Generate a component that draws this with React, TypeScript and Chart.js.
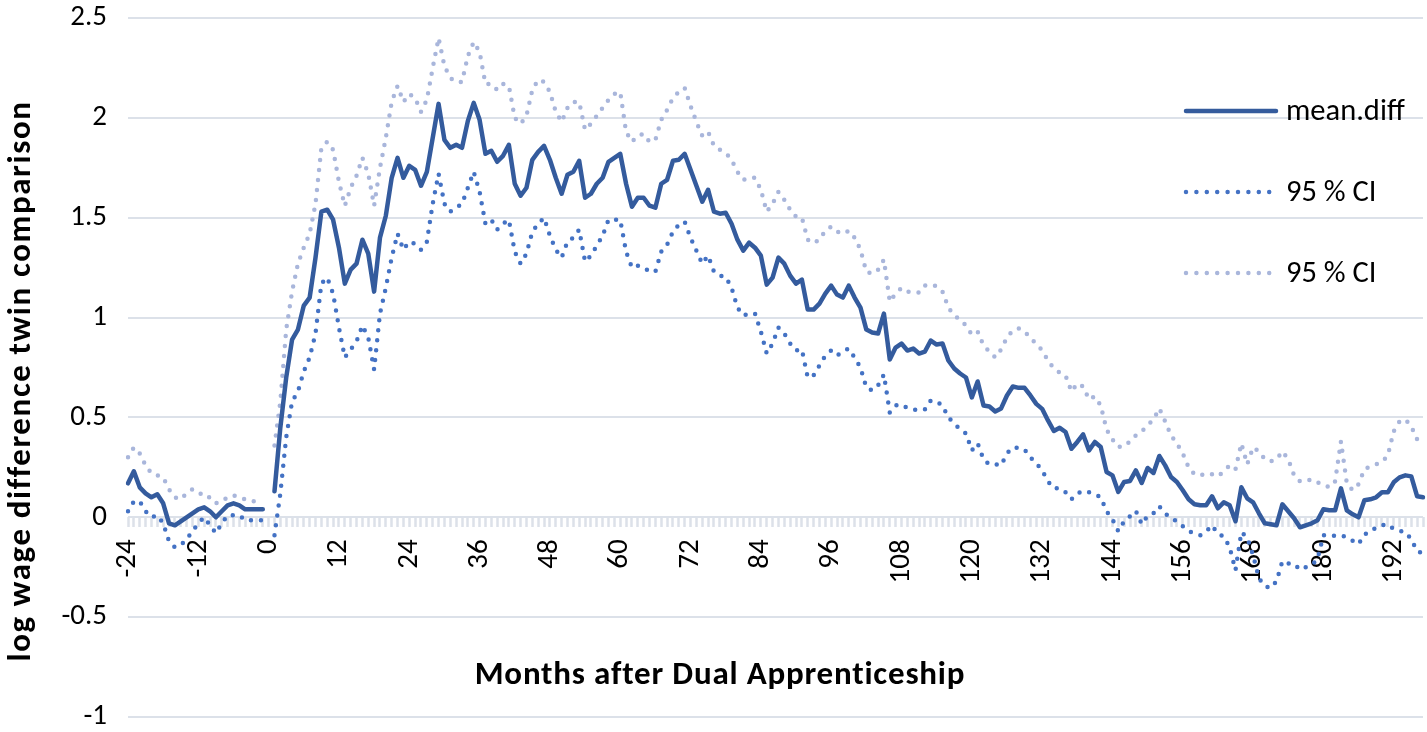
import { useEffect, useRef } from 'react';
import { Chart, registerables } from 'chart.js';

Chart.register(...registerables);

// ---------- data ----------
const MONTHS: number[] = Array.from({ length: 222 }, (_, i) => i - 24); // -24 .. 197

const MEAN_DIFF: (number | null)[] = [
  // -24 .. -1
  0.17, 0.23, 0.15, 0.12, 0.10, 0.115, 0.07, -0.03, -0.04, -0.02, 0.00, 0.02, 0.04, 0.05, 0.03, 0.00, 0.03, 0.06, 0.07, 0.06, 0.04, 0.04, 0.04, 0.04,
  // 0
  null,
  // 1 .. 30
  0.13, 0.45, 0.70, 0.89, 0.94, 1.06, 1.10, 1.30, 1.53, 1.54, 1.49, 1.35, 1.17, 1.24, 1.27, 1.39, 1.32, 1.13, 1.40, 1.51, 1.70, 1.80, 1.70, 1.76, 1.74, 1.66, 1.73, 1.90, 2.07, 1.89,
  // 31 .. 60
  1.85, 1.865, 1.85, 1.985, 2.075, 1.99, 1.82, 1.835, 1.78, 1.81, 1.865, 1.67, 1.61, 1.65, 1.79, 1.83, 1.86, 1.79, 1.70, 1.62, 1.715, 1.73, 1.785, 1.60, 1.62, 1.67, 1.70, 1.78, 1.80, 1.82,
  // 61 .. 90
  1.67, 1.555, 1.60, 1.60, 1.56, 1.55, 1.67, 1.69, 1.785, 1.79, 1.82, 1.74, 1.66, 1.58, 1.64, 1.53, 1.52, 1.525, 1.47, 1.39, 1.335, 1.375, 1.35, 1.31, 1.165, 1.20, 1.30, 1.27, 1.21, 1.17,
  // 91 .. 120
  1.19, 1.04, 1.04, 1.07, 1.12, 1.16, 1.115, 1.10, 1.16, 1.10, 1.05, 0.94, 0.925, 0.92, 1.02, 0.79, 0.85, 0.87, 0.835, 0.845, 0.82, 0.83, 0.885, 0.865, 0.87, 0.785, 0.745, 0.72, 0.70, 0.60,
  // 121 .. 150
  0.68, 0.56, 0.555, 0.53, 0.545, 0.61, 0.655, 0.648, 0.648, 0.61, 0.568, 0.543, 0.485, 0.432, 0.448, 0.427, 0.343, 0.377, 0.415, 0.335, 0.377, 0.352, 0.227, 0.21, 0.127, 0.177, 0.182, 0.235, 0.172, 0.247,
  // 151 .. 180
  0.222, 0.307, 0.26, 0.202, 0.177, 0.135, 0.09, 0.065, 0.06, 0.06, 0.105, 0.045, 0.075, 0.06, -0.02, 0.15, 0.095, 0.075, 0.02, -0.03, -0.035, -0.04, 0.065, 0.03, -0.005, -0.05, -0.04, -0.03, -0.015, 0.04,
  // 181 .. 197
  0.035, 0.035, 0.145, 0.035, 0.015, 0.0, 0.085, 0.09, 0.10, 0.125, 0.125, 0.175, 0.20, 0.21, 0.205, 0.105, 0.10,
];

const CI_LOWER: (number | null)[] = [
  // -24 .. -1
  0.03, 0.08, 0.08, 0.03, 0.00, 0.01, -0.03, -0.12, -0.15, -0.14, -0.11, -0.07, -0.03, 0.00, -0.04, -0.08, -0.03, 0.01, 0.01, 0.01, -0.015, -0.015, -0.015, -0.015,
  // 0
  null,
  // 1 .. 30
  -0.09, 0.12, 0.40, 0.58, 0.63, 0.73, 0.80, 0.92, 1.17, 1.20, 1.12, 0.95, 0.80, 0.84, 0.88, 0.96, 0.90, 0.74, 1.02, 1.15, 1.30, 1.42, 1.34, 1.38, 1.37, 1.34, 1.38, 1.57, 1.72, 1.57,
  // 31 .. 60
  1.53, 1.55, 1.57, 1.65, 1.73, 1.63, 1.47, 1.49, 1.44, 1.47, 1.49, 1.33, 1.27, 1.32, 1.43, 1.47, 1.50, 1.41, 1.34, 1.30, 1.38, 1.40, 1.44, 1.28, 1.31, 1.36, 1.41, 1.49, 1.49, 1.49,
  // 61 .. 90
  1.33, 1.25, 1.26, 1.25, 1.23, 1.23, 1.33, 1.365, 1.43, 1.465, 1.48, 1.40, 1.335, 1.27, 1.31, 1.23, 1.21, 1.205, 1.15, 1.05, 1.01, 1.02, 1.02, 0.93, 0.82, 0.87, 0.95, 0.92, 0.87, 0.835,
  // 91 .. 120
  0.84, 0.70, 0.71, 0.76, 0.81, 0.835, 0.81, 0.83, 0.845, 0.80, 0.75, 0.65, 0.635, 0.66, 0.715, 0.525, 0.56, 0.565, 0.547, 0.54, 0.535, 0.54, 0.585, 0.58, 0.56, 0.50, 0.47, 0.44, 0.42, 0.335,
  // 121 .. 150
  0.37, 0.29, 0.265, 0.265, 0.26, 0.32, 0.35, 0.348, 0.34, 0.30, 0.27, 0.235, 0.18, 0.145, 0.145, 0.125, 0.09, 0.12, 0.132, 0.125, 0.115, 0.10, 0.03, -0.01, -0.07, -0.02, 0.005, 0.032, -0.035, 0.008,
  // 151 .. 180
  0.02, 0.055, 0.02, -0.005, -0.02, -0.045, -0.07, -0.08, -0.09, -0.07, -0.04, -0.085, -0.095, -0.15, -0.265, -0.075, -0.10, -0.19, -0.305, -0.345, -0.355, -0.32, -0.22, -0.232, -0.232, -0.262, -0.25, -0.24, -0.21, -0.09,
  // 181 .. 197
  -0.09, -0.093, -0.09, -0.10, -0.118, -0.135, -0.085, -0.075, -0.05, -0.04, -0.035, -0.06, -0.068, -0.073, -0.11, -0.17, -0.18,
];

const CI_UPPER: (number | null)[] = [
  // -24 .. -1
  0.30, 0.35, 0.32, 0.26, 0.22, 0.21, 0.20, 0.14, 0.10, 0.09, 0.12, 0.14, 0.13, 0.10, 0.10, 0.07, 0.08, 0.10, 0.11, 0.10, 0.09, 0.08, 0.08, 0.09,
  // 0
  null,
  // 1 .. 30
  0.36, 0.58, 0.94, 1.13, 1.27, 1.35, 1.42, 1.57, 1.85, 1.88, 1.84, 1.68, 1.56, 1.65, 1.71, 1.80, 1.72, 1.56, 1.75, 1.90, 2.08, 2.16, 2.08, 2.12, 2.10, 2.03, 2.09, 2.25, 2.40, 2.26,
  // 31 .. 60
  2.20, 2.18, 2.18, 2.31, 2.38, 2.33, 2.17, 2.17, 2.14, 2.17, 2.16, 2.00, 1.97, 2.01, 2.14, 2.19, 2.18, 2.13, 2.03, 1.98, 2.05, 2.08, 2.08, 1.94, 1.97, 2.01, 2.05, 2.09, 2.12, 2.13,
  // 61 .. 90
  1.93, 1.88, 1.91, 1.92, 1.88, 1.89, 1.99, 2.04, 2.10, 2.13, 2.15, 2.06, 1.98, 1.91, 1.93, 1.86, 1.84, 1.825, 1.79, 1.73, 1.69, 1.70, 1.70, 1.64, 1.53, 1.57, 1.63, 1.59, 1.54, 1.505,
  // 91 .. 120
  1.50, 1.39, 1.372, 1.39, 1.435, 1.455, 1.43, 1.42, 1.435, 1.40, 1.34, 1.23, 1.22, 1.24, 1.29, 1.08, 1.12, 1.148, 1.13, 1.127, 1.125, 1.16, 1.165, 1.157, 1.13, 1.05, 1.01, 0.99, 0.96, 0.915,
  // 121 .. 150
  0.93, 0.86, 0.83, 0.80, 0.84, 0.90, 0.935, 0.945, 0.932, 0.895, 0.87, 0.835, 0.785, 0.745, 0.725, 0.71, 0.63, 0.67, 0.655, 0.59, 0.605, 0.56, 0.44, 0.39, 0.352, 0.355, 0.38, 0.41, 0.43, 0.46,
  // 151 .. 180
  0.49, 0.545, 0.48, 0.41, 0.37, 0.32, 0.25, 0.215, 0.21, 0.22, 0.215, 0.205, 0.23, 0.26, 0.24, 0.37, 0.265, 0.35, 0.33, 0.29, 0.28, 0.29, 0.33, 0.29, 0.21, 0.18, 0.18, 0.19, 0.175, 0.165,
  // 181 .. 197
  0.15, 0.18, 0.38, 0.17, 0.135, 0.165, 0.24, 0.255, 0.265, 0.275, 0.31, 0.43, 0.48, 0.49, 0.455, 0.39, 0.375,
];

const SERIES_LABELS = ['mean.diff', '95 % CI', '95 % CI'];
const X_TITLE = 'Months after Dual Apprenticeship';
const Y_TITLE = 'log wage difference twin comparison';
const Y_MIN = -1;
const Y_MAX = 2.5;
const Y_STEP = 0.5;
const LABEL_EVERY = 12;
const LAST_LABELLED = 192;

// ---------- styles ----------
const FONT = "Carlito, Lato, 'Noto Sans', sans-serif";
const MEAN_COLOR = '#345B9D';
const LOWER_COLOR = '#4472C4';
const UPPER_COLOR = '#A9B6DB';
const GRID_COLOR = '#DCE1E9';
const W = 1427;
const H = 732;

const overlayPlugin = {
  id: 'overlay',
  afterDraw(chart: any) {
    const ctx: CanvasRenderingContext2D = chart.ctx;
    ctx.save();
    ctx.fillStyle = '#000';
    // axis titles
    ctx.font = `bold 33px ${FONT}`;
    ctx.textAlign = 'center';
    ctx.textBaseline = 'middle';
    (ctx as any).letterSpacing = '0.8px';
    ctx.fillText(X_TITLE, 720, 676);
    ctx.save();
    (ctx as any).letterSpacing = '1.6px';
    ctx.translate(22, 381);
    ctx.rotate(-Math.PI / 2);
    ctx.fillText(Y_TITLE, 0, 0);
    ctx.restore();
    (ctx as any).letterSpacing = '0px';

    // legend
    const items = [
      { label: SERIES_LABELS[0], color: MEAN_COLOR, dash: [] as number[], y: 111, base: 120 },
      { label: SERIES_LABELS[1], color: LOWER_COLOR, dash: [0, 10.4], y: 192, base: 201 },
      { label: SERIES_LABELS[2], color: UPPER_COLOR, dash: [0, 10.4], y: 273, base: 282 },
    ];
    ctx.font = `30.5px ${FONT}`;
    ctx.textAlign = 'left';
    ctx.textBaseline = 'alphabetic';
    for (const it of items) {
      ctx.beginPath();
      ctx.setLineDash(it.dash);
      ctx.lineCap = 'round';
      ctx.lineWidth = 4.5;
      ctx.strokeStyle = it.color;
      ctx.moveTo(1186, it.y);
      ctx.lineTo(it.dash.length ? 1272 : 1276, it.y);
      ctx.stroke();
      ctx.setLineDash([]);
      ctx.fillStyle = '#000';
      ctx.fillText(it.label, 1286, it.base);
    }
    ctx.restore();
  },
};

export default function App() {
  const ref = useRef<HTMLCanvasElement | null>(null);

  useEffect(() => {
    if (!ref.current) return;
    const chart = new Chart(ref.current, {
      type: 'line',
      data: {
        labels: MONTHS.map(String),
        datasets: [
          {
            label: SERIES_LABELS[0],
            data: MEAN_DIFF,
            borderColor: MEAN_COLOR,
            borderWidth: 4.5,
            pointRadius: 0,
            tension: 0,
            spanGaps: false,
            borderJoinStyle: 'round',
            borderCapStyle: 'round',
            order: 0,
          },
          {
            label: SERIES_LABELS[1],
            data: CI_LOWER,
            borderColor: LOWER_COLOR,
            borderWidth: 4.5,
            borderDash: [0, 10],
            borderCapStyle: 'round',
            pointRadius: 0,
            tension: 0,
            spanGaps: false,
            order: 1,
          },
          {
            label: SERIES_LABELS[2],
            data: CI_UPPER,
            borderColor: UPPER_COLOR,
            borderWidth: 4.5,
            borderDash: [0, 10],
            borderCapStyle: 'round',
            pointRadius: 0,
            tension: 0,
            spanGaps: false,
            order: 2,
          },
        ],
      },
      options: {
        responsive: false,
        animation: false,
        events: [],
        layout: { padding: { left: 0, right: 4, top: 18, bottom: 15 } },
        plugins: {
          legend: { display: false },
          tooltip: { enabled: false },
          title: { display: false },
        },
        scales: {
          x: {
            type: 'category',
            position: { y: 0 } as any,
            offset: false,
            border: { display: false },
            grid: {
              drawOnChartArea: false,
              drawTicks: true,
              tickLength: 10,
              tickColor: GRID_COLOR,
              tickWidth: 2.5,
            },
            ticks: {
              autoSkip: false,
              minRotation: 90,
              maxRotation: 90,
              padding: 12,
              color: '#000',
              font: { family: FONT, size: 29 },
              callback: (_v: any, i: number) => {
                const m = MONTHS[i];
                return m % LABEL_EVERY === 0 && m <= LAST_LABELLED ? String(m) : '';
              },
            },
            afterFit: (scale: any) => {
              scale.paddingLeft = 0;
              scale.paddingRight = 0;
            },
          },
          y: {
            min: Y_MIN,
            max: Y_MAX,
            border: { display: false },
            grid: { color: GRID_COLOR, lineWidth: 2, drawTicks: false },
            ticks: {
              stepSize: Y_STEP,
              padding: 21,
              color: '#000',
              font: { family: FONT, size: 29 },
              callback: (v: any) => String(Math.round(Number(v) * 10) / 10),
            },
            afterFit: (scale: any) => {
              scale.width = 128;
              scale.paddingTop = 0;
              scale.paddingBottom = 0;
            },
          },
        },
      },
      plugins: [overlayPlugin],
    });
    return () => chart.destroy();
  }, []);

  return (
    <div style={{ position: 'fixed', left: 0, top: 0, width: W, height: H, background: '#fff' }}>
      <canvas ref={ref} width={W} height={H} style={{ display: 'block', width: W, height: H }} />
    </div>
  );
}
